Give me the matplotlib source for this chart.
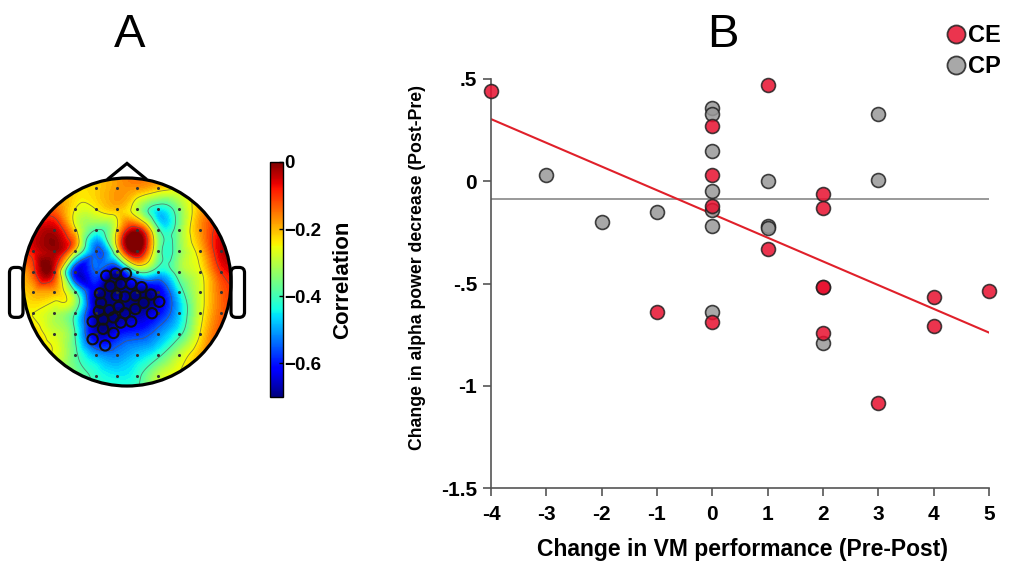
import numpy as np
import matplotlib
matplotlib.use("Agg")
import matplotlib.pyplot as plt
from matplotlib.patches import Circle, Polygon, FancyBboxPatch
from matplotlib.lines import Line2D
from matplotlib.tri import Triangulation, UniformTriRefiner

plt.rcParams['font.family'] = ['Liberation Sans', 'DejaVu Sans']

# ---- Panel A: correlation map over the head (values read on a 12x12 grid, head radius = 1)
grid_u = [-1.1, -0.9, -0.7, -0.5, -0.3, -0.1, 0.1, 0.3, 0.5, 0.7, 0.9, 1.1]
grid_v = [1.1, 0.9, 0.7, 0.5, 0.3, 0.1, -0.1, -0.3, -0.5, -0.7, -0.9, -1.1]
corr = [
    [-0.18, -0.18, -0.20, -0.22, -0.22, -0.18, -0.18, -0.20, -0.22, -0.20, -0.15, -0.12],
    [-0.15, -0.15, -0.18, -0.22, -0.22, -0.18, -0.18, -0.22, -0.25, -0.22, -0.18, -0.15],
    [-0.10, -0.12, -0.14, -0.25, -0.25, -0.21, -0.30, -0.45, -0.35, -0.20, -0.12, -0.10],
    [-0.06, -0.07, -0.04, -0.23, -0.40, -0.25, -0.05, -0.38, -0.35, -0.18, -0.07, -0.05],
    [-0.06, -0.07, -0.02, -0.25, -0.55, -0.30, 0.00, -0.35, -0.35, -0.22, -0.05, -0.05],
    [-0.12, -0.12, -0.08, -0.62, -0.55, -0.66, -0.40, -0.45, -0.35, -0.26, -0.10, -0.08],
    [-0.20, -0.20, -0.20, -0.38, -0.66, -0.70, -0.70, -0.65, -0.45, -0.28, -0.14, -0.10],
    [-0.25, -0.25, -0.30, -0.40, -0.68, -0.70, -0.68, -0.62, -0.48, -0.28, -0.14, -0.10],
    [-0.22, -0.22, -0.28, -0.40, -0.66, -0.62, -0.58, -0.52, -0.42, -0.25, -0.12, -0.10],
    [-0.25, -0.25, -0.26, -0.38, -0.50, -0.52, -0.48, -0.42, -0.30, -0.20, -0.12, -0.10],
    [-0.30, -0.30, -0.32, -0.35, -0.42, -0.45, -0.42, -0.30, -0.25, -0.20, -0.15, -0.10],
    [-0.30, -0.30, -0.32, -0.35, -0.40, -0.42, -0.40, -0.30, -0.25, -0.20, -0.15, -0.10],
]

# significant electrodes (circled)
sig_u = [-0.20, -0.11, -0.01, -0.26, -0.16, -0.06, 0.04, 0.14, 0.23, 0.31, -0.25,
         -0.10, -0.02, 0.08, 0.16, -0.27, -0.17, -0.08, -0.02, 0.08, 0.24, -0.33,
         -0.23, -0.13, -0.06, 0.04, -0.33, -0.23, -0.13, -0.21]
sig_v = [0.06, 0.08, 0.08, -0.11, -0.04, -0.02, -0.02, -0.05, -0.12, -0.19, -0.20,
         -0.13, -0.14, -0.13, -0.20, -0.28, -0.27, -0.24, -0.30, -0.26, -0.30, -0.38,
         -0.36, -0.34, -0.39, -0.38, -0.55, -0.45, -0.49, -0.61]

cbar_ticks = [0, -0.2, -0.4, -0.6]
cbar_labels = ['0', '\u22120.2', '\u22120.4', '\u22120.6']

# ---- Panel B: scatter
ce_x = [-4, -1, 0, 0, 0, 0, 1, 1, 2, 2, 2, 2, 2, 3, 4, 4, 5]
ce_y = [0.44, -0.64, 0.27, 0.03, -0.12, -0.69, 0.47, -0.33, -0.06, -0.13,
        -0.515, -0.515, -0.74, -1.085, -0.565, -0.71, -0.535]
cp_x = [-3, -2, -1, 0, 0, 0, 0, 0, 0, 0, 1, 1, 1, 2, 3, 3]
cp_y = [0.03, -0.20, -0.15, 0.36, 0.33, 0.15, -0.05, -0.14, -0.22, -0.64,
        0.0, -0.22, -0.23, -0.79, 0.33, 0.005]
# fitted lines (slope, intercept)
ce_fit = (-0.116, -0.160)
cp_fit = (0.0, -0.085)

x_ticks = [-4, -3, -2, -1, 0, 1, 2, 3, 4, 5]
y_ticks = [0.5, 0, -0.5, -1, -1.5]
y_tick_labels = ['.5', '0', '-.5', '-1', '-1.5']

red = '#e8102f'
gray = '#999999'
edge = '#222222'

W, H = 1010, 565
fig = plt.figure(figsize=(W / 100, H / 100), dpi=100)

# ---------------- A
axA = fig.add_axes([2.2 / W, (H - 406.8) / H, 249.6 / W, 260 / H])
axA.set_xlim(-1.2, 1.2)
axA.set_ylim(-1.2, 1.3)
axA.set_aspect('equal')
axA.axis('off')

uu, vv = np.meshgrid(grid_u, grid_v)
tri = Triangulation(uu.ravel(), vv.ravel())
tri_f, z_f = UniformTriRefiner(tri).refine_field(np.array(corr).ravel(), subdiv=4)
head = Circle((0, 0), 1.0, transform=axA.transData)
cs = axA.tricontourf(tri_f, z_f, levels=np.linspace(-0.7, 0, 71), cmap='jet',
                     vmin=-0.7, vmax=0, extend='both')
cs.set_clip_path(head)
cl = axA.tricontour(tri_f, z_f, levels=[-0.55, -0.4, -0.25, -0.1], colors='#555555',
                    linewidths=0.6, linestyles='solid', alpha=0.7)
cl.set_clip_path(head)

# electrode dots
inside = uu ** 2 + vv ** 2 < 0.93
axA.plot(uu[inside], vv[inside], 'o', color='#333333', ms=1.2, zorder=3)
axA.scatter(sig_u, sig_v, s=55, facecolor='none', edgecolor='#111111', linewidth=1.5, zorder=4)

axA.add_patch(Circle((0, 0), 1.0, fill=False, lw=2.3, color='black', zorder=5))
axA.add_patch(Polygon([[-0.19, 0.985], [0, 1.14], [0.19, 0.985]], closed=False,
                      fill=False, lw=2.3, color='black', zorder=5))
for x0 in (-1.13, 1.0):
    axA.add_patch(FancyBboxPatch((x0 + 0.02, -0.32), 0.09, 0.44,
                                 boxstyle='round,pad=0.02,rounding_size=0.05',
                                 fill=False, lw=2.3, color='black', zorder=5))
fig.text(130 / W, 1 - 35 / H, 'A', fontsize=34, ha='center', va='center')

# colorbar
cax = fig.add_axes([270 / W, (H - 397) / H, 13 / W, 235 / H])
sm = matplotlib.cm.ScalarMappable(norm=matplotlib.colors.Normalize(-0.7, 0), cmap='jet')
cb = fig.colorbar(sm, cax=cax, ticks=cbar_ticks)
cb.ax.set_yticklabels(cbar_labels, fontsize=13.5, fontweight='bold')
cb.ax.tick_params(direction='in', length=3, width=1, pad=1)
cb.outline.set_linewidth(1.0)
cb.set_label('Correlation', fontsize=16, fontweight='bold', labelpad=8)

# ---------------- B
axB = fig.add_axes([491 / W, (H - 488) / H, 498 / W, 409 / H])
axB.set_xlim(-4, 5)
axB.set_ylim(-1.5, 0.5)
for s in ('top', 'right'):
    axB.spines[s].set_visible(False)
for s in ('left', 'bottom'):
    axB.spines[s].set_color('#555555')
    axB.spines[s].set_linewidth(1.2)
axB.tick_params(direction='out', length=6, width=1.2, color='#555555', pad=4)
axB.tick_params(axis='x', pad=6)
axB.set_xticks(x_ticks)
axB.set_xticklabels([str(t) for t in x_ticks], fontsize=15, fontweight='bold')
axB.set_yticks(y_ticks)
axB.set_yticklabels(y_tick_labels, fontsize=15, fontweight='bold')

xl = np.array([-4, 5])
axB.plot(xl, cp_fit[0] * xl + cp_fit[1], color='#888888', lw=1.2, zorder=2)
axB.plot(xl, ce_fit[0] * xl + ce_fit[1], color='#e0202a', lw=1.5, zorder=2)
axB.scatter(cp_x, cp_y, s=100, facecolor=gray, edgecolor=edge, linewidth=1.2,
            alpha=0.85, zorder=3, clip_on=False)
axB.scatter(ce_x, ce_y, s=100, facecolor=red, edgecolor=edge, linewidth=1.2,
            alpha=0.85, zorder=3, clip_on=False)

axB.set_xlabel('Change in VM performance (Pre-Post)', fontsize=16.5, fontweight='bold')
axB.xaxis.set_label_coords(0.506, -0.122)
axB.set_ylabel('Change in alpha power decrease (Post-Pre)', fontsize=12.7, fontweight='bold')
axB.yaxis.set_label_coords(-0.131, 0.538)
fig.text(723 / W, 1 - 35 / H, 'B', fontsize=34, ha='center', va='center')

handles = [Line2D([], [], ls='', marker='o', ms=13, mfc=red, mec=edge, mew=1.3, alpha=0.85),
           Line2D([], [], ls='', marker='o', ms=13, mfc=gray, mec=edge, mew=1.3, alpha=0.85)]
fig.legend(handles, ['CE', 'CP'], loc='upper right', bbox_to_anchor=(1.012, 0.995),
           frameon=False, handlelength=0.8, handletextpad=0.1, labelspacing=0.33,
           prop={'size': 17, 'weight': 'bold'})

fig.savefig('out.png', dpi=100)
